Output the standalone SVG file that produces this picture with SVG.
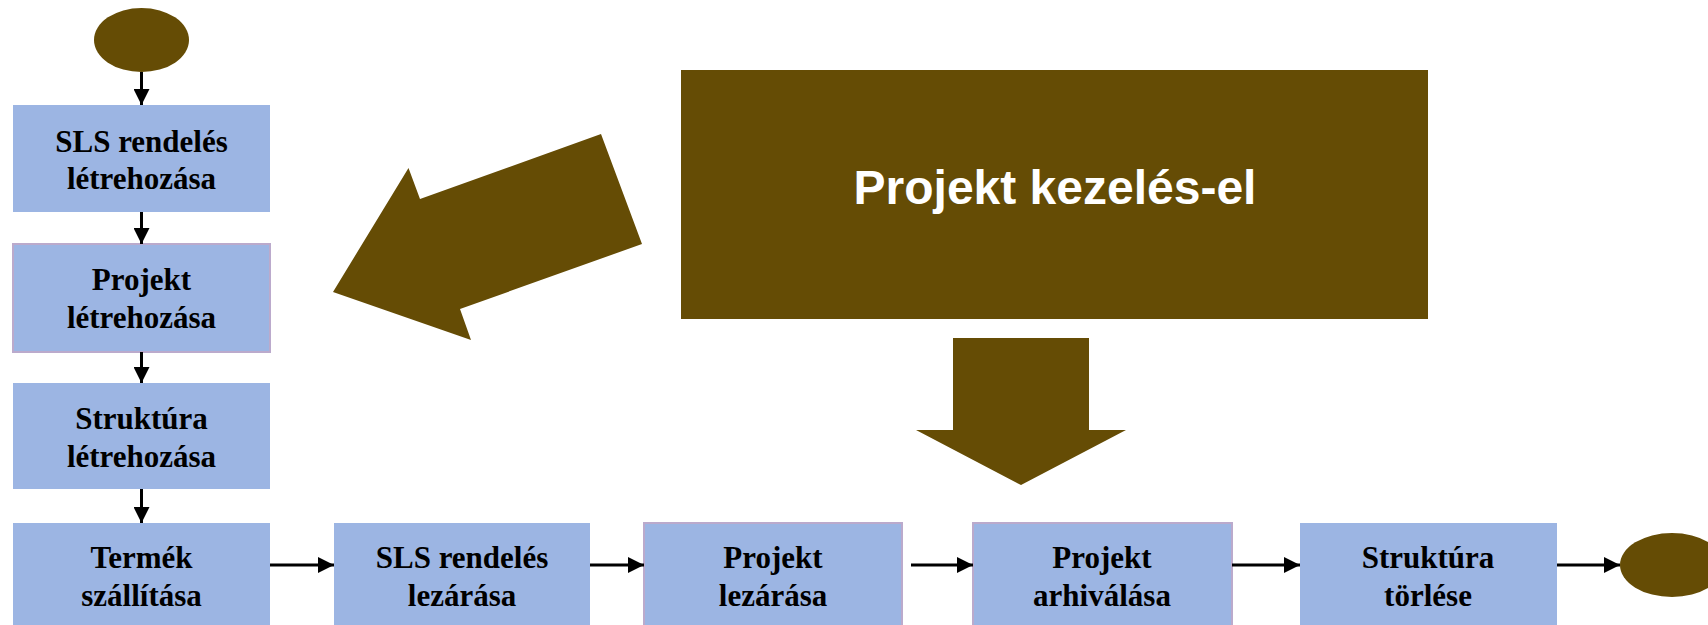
<svg xmlns="http://www.w3.org/2000/svg" width="1708" height="625" viewBox="0 0 1708 625">
<style>
.box{fill:#9CB5E3;}
.bord{stroke:#BBAACC;stroke-width:2;}
.term{fill:#654C05;}
.big{fill:#654C05;}
.lbl{font-family:"Liberation Serif","Times New Roman",serif;font-weight:bold;font-size:31px;fill:#000;text-anchor:middle;}
.title{font-family:"Liberation Sans",Arial,sans-serif;font-weight:bold;font-size:48px;fill:#fff;text-anchor:middle;}
.conn{stroke:#000;stroke-width:3;fill:none;marker-end:url(#ah);}
</style>
<defs>
<marker id="ah" markerUnits="userSpaceOnUse" markerWidth="16" markerHeight="16" refX="16" refY="8" orient="auto">
<path d="M0,0 L16,8 L0,16 Z" fill="#000"/>
</marker>
</defs>
<rect width="1708" height="625" fill="#fff"/>
<g id="start"><ellipse class="term" cx="141.5" cy="40" rx="47.5" ry="32"/></g>
<g id="n1"><rect class="box" x="13" y="105" width="257" height="107"/>
<text class="lbl" x="141.5" y="152">SLS rendelés</text><text class="lbl" x="141.5" y="189">létrehozása</text></g>
<g id="n2"><rect class="box bord" x="13" y="244" width="257" height="108"/>
<text class="lbl" x="141.5" y="290">Projekt</text><text class="lbl" x="141.5" y="328">létrehozása</text></g>
<g id="n3"><rect class="box" x="13" y="383" width="257" height="106"/>
<text class="lbl" x="141.5" y="429">Struktúra</text><text class="lbl" x="141.5" y="467">létrehozása</text></g>
<g id="n4"><rect class="box" x="13" y="523" width="257" height="110"/>
<text class="lbl" x="141.5" y="568">Termék</text><text class="lbl" x="141.5" y="606">szállítása</text></g>
<g id="n5"><rect class="box" x="334" y="523" width="256" height="110"/>
<text class="lbl" x="462" y="568">SLS rendelés</text><text class="lbl" x="462" y="606">lezárása</text></g>
<g id="n6"><rect class="box bord" x="644" y="523" width="258" height="110"/>
<text class="lbl" x="773" y="568">Projekt</text><text class="lbl" x="773" y="606">lezárása</text></g>
<g id="n7"><rect class="box bord" x="973" y="523" width="259" height="110"/>
<text class="lbl" x="1102" y="568">Projekt</text><text class="lbl" x="1102" y="606">arhiválása</text></g>
<g id="n8"><rect class="box" x="1300" y="523" width="257" height="110"/>
<text class="lbl" x="1428" y="568">Struktúra</text><text class="lbl" x="1428" y="606">törlése</text></g>
<g id="end"><ellipse class="term" cx="1672" cy="565" rx="52" ry="32"/></g>
<g id="pm">
<rect class="big" x="681" y="70" width="747" height="249"/>
<text class="title" x="1055" y="204">Projekt kezelés-el</text>
</g>
<g id="bigarrows">
<path class="big" d="M333,292 L408.5,168 L420,199 L601,134 L642,244 L460,309 L471,340 Z"/>
<path class="big" d="M953,338 L1089,338 L1089,430 L1126,430 L1021,485 L916,430 L953,430 Z"/>
</g>
<g id="connectors">
<line class="conn" x1="141.5" y1="72" x2="141.5" y2="105"/>
<line class="conn" x1="141.5" y1="212" x2="141.5" y2="244"/>
<line class="conn" x1="141.5" y1="352" x2="141.5" y2="383"/>
<line class="conn" x1="141.5" y1="489" x2="141.5" y2="523"/>
<line class="conn" x1="270" y1="565" x2="334" y2="565"/>
<line class="conn" x1="590" y1="565" x2="644" y2="565"/>
<line class="conn" x1="911" y1="565" x2="973" y2="565"/>
<line class="conn" x1="1232" y1="565" x2="1300" y2="565"/>
<line class="conn" x1="1557" y1="565" x2="1620" y2="565"/>
</g>
</svg>
